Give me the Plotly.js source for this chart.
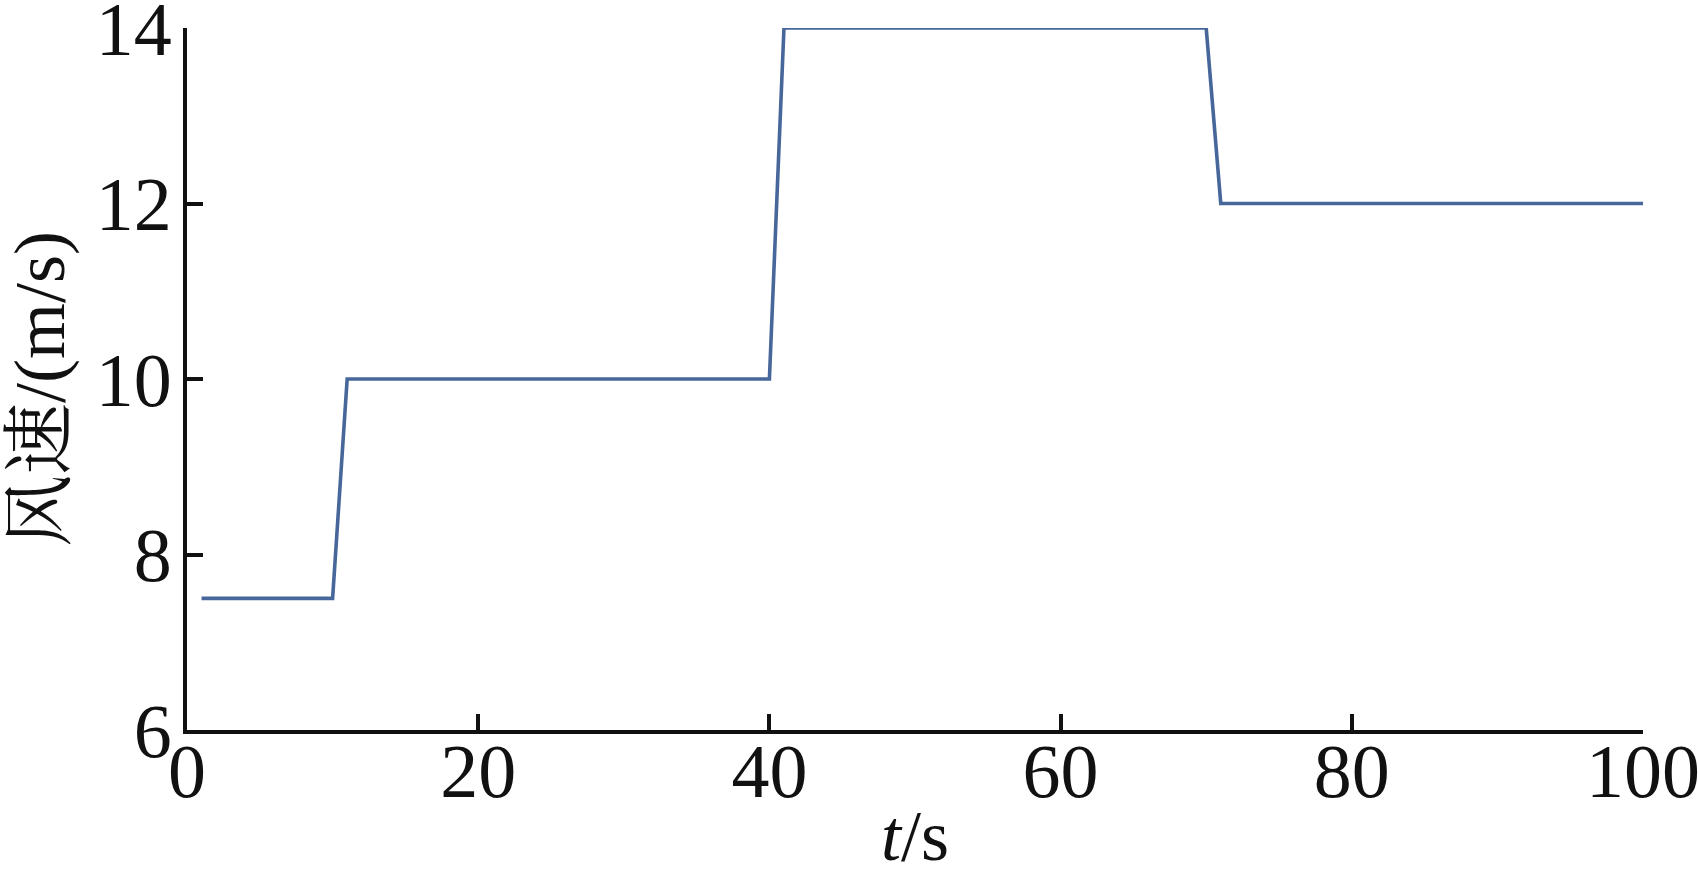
<!DOCTYPE html>
<html>
<head>
<meta charset="utf-8">
<script src="https://cdn.plot.ly/plotly-3.0.1.min.js"></script>
<style>html,body{margin:0;padding:0;background:#fff;}#chart{width:1698px;height:876px;}</style>
</head>
<body>
<div id="chart"></div>
<script>
const timeS = [1, 10, 11, 40, 41, 70, 71, 100];
const windSpeed = [7.5, 7.5, 10, 10, 14, 14, 12, 12];
const xTicks = [0, 20, 40, 60, 80, 100];
const yTicks = [6, 8, 10, 12, 14];
const xTitle = '<i>t</i>/s';
const yTitle = '风速/(m/s)';

const serif = '"Liberation Serif", "Times New Roman", "Noto Serif CJK SC", "Noto Sans CJK SC", serif';

Plotly.newPlot('chart', [{
  x: timeS, y: windSpeed, type: 'scatter', mode: 'lines',
  line: {color: '#47679b', width: 3.6}, hoverinfo: 'skip'
}], {
  width: 1698, height: 876,
  margin: {l: 187, r: 55, t: 28, b: 146},
  paper_bgcolor: '#fff', plot_bgcolor: '#fff',
  showlegend: false,
  font: {family: serif, color: '#111', size: 76},
  xaxis: {
    range: [0, 100], tickvals: xTicks, ticktext: xTicks.map(String),
    showgrid: false, zeroline: false, showline: true, linecolor: '#111', linewidth: 4,
    ticks: 'inside', ticklen: 16, tickwidth: 4, tickcolor: '#111',
    tickfont: {family: serif, size: 76, color: '#111'},
    ticklabelstandoff: -28, ticklabeloverflow: 'allow',
    title: {text: xTitle, font: {family: serif, size: 72, color: '#111'}, standoff: 22}
  },
  yaxis: {
    range: [6, 14], tickvals: yTicks, ticktext: yTicks.map(String),
    showgrid: false, zeroline: false, showline: true, linecolor: '#111', linewidth: 4,
    ticks: 'inside', ticklen: 16, tickwidth: 4, tickcolor: '#111',
    tickfont: {family: serif, size: 76, color: '#111'},
    ticklabelstandoff: -4, ticklabeloverflow: 'allow'
  },
  annotations: [{
    text: yTitle, xref: 'paper', yref: 'paper',
    x: (40 - 187) / (1698 - 187 - 55), y: (730 - 389) / (730 - 28),
    xanchor: 'center', yanchor: 'middle', textangle: -90, showarrow: false,
    font: {family: serif, size: 72, color: '#111'}
  }]
}, {displayModeBar: false, staticPlot: true});
</script>
</body>
</html>
